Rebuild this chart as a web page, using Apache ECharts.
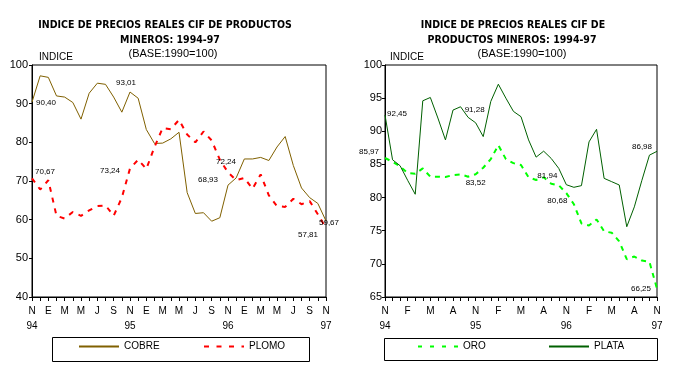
<!DOCTYPE html>
<html>
<head>
<meta charset="utf-8">
<script src="https://cdn.jsdelivr.net/npm/echarts@6/dist/echarts.min.js"></script>
<style>
html,body{margin:0;padding:0;background:#fff;}
#c{width:680px;height:367px;}
</style>
</head>
<body>
<div id="c"></div>
<script>
// ---- categories (Nov 1994 .. Nov 1997, monthly) ----
const categories = [
  'Nov-94','Dic-94','Ene-95','Feb-95','Mar-95','Abr-95','May-95','Jun-95','Jul-95','Ago-95','Sep-95','Oct-95',
  'Nov-95','Dic-95','Ene-96','Feb-96','Mar-96','Abr-96','May-96','Jun-96','Jul-96','Ago-96','Sep-96','Oct-96',
  'Nov-96','Dic-96','Ene-97','Feb-97','Mar-97','Abr-97','May-97','Jun-97','Jul-97','Ago-97','Sep-97','Oct-97',
  'Nov-97'
];
// month initial used as tick label
const monthInitials = {Nov:'N',Dic:'D',Ene:'E',Feb:'F',Mar:'M',Abr:'A',May:'M',Jun:'J',Jul:'J',Ago:'A',Sep:'S',Oct:'O'};

// ---- series values ----
const cobre = [90.40, 97.2, 96.8, 92.0, 91.7, 90.3, 86.0, 92.7, 95.3, 95.0, 91.7, 87.8,
  93.01, 91.4, 83.3, 79.7, 79.8, 80.9, 82.6, 67.0, 61.6, 61.8, 59.6, 60.5,
  68.93, 70.8, 75.7, 75.7, 76.1, 75.3, 78.8, 81.5, 74.0, 68.2, 65.7, 64.2, 59.67];
const plomo = [70.67, 67.8, 70.2, 61.0, 60.3, 62.0, 61.0, 62.4, 63.5, 63.7, 61.0, 65.7,
  73.24, 75.5, 73.1, 78.8, 83.7, 83.4, 85.8, 82.0, 80.0, 82.8, 80.5, 75.5,
  72.24, 70.2, 70.8, 68.0, 71.7, 66.3, 63.5, 63.3, 65.4, 64.0, 64.8, 61.4, 57.81];
const oro = [85.97, 85.4, 84.7, 83.7, 83.6, 84.4, 83.15, 83.15, 83.1, 83.4, 83.5, 83.15,
  83.52, 84.5, 85.8, 87.9, 85.8, 85.2, 84.9, 83.05, 82.65, 83.05, 82.1, 81.85,
  80.68, 79.0, 76.1, 75.8, 76.7, 74.9, 74.7, 73.4, 70.7, 71.1, 70.5, 70.3, 66.25];
const plata = [92.45, 85.7, 84.8, 82.6, 80.5, 94.6, 95.1, 92.0, 88.7, 93.2, 93.7, 92.1,
  91.28, 89.2, 94.5, 97.1, 95.0, 93.0, 92.2, 88.7, 86.1, 87.0, 85.9, 84.4,
  81.94, 81.55, 81.8, 88.4, 90.3, 82.9, 82.4, 81.9, 75.6, 78.6, 82.6, 86.4, 86.98];

// ---- which points carry a value label (index -> label offset in px) ----
const cobreLabelAt = {0:[14,1], 12:[-4,-9], 24:[-20,-5], 36:[3,2]};
const plomoLabelAt = {0:[13,-7], 12:[-20,2], 24:[-2,-11], 36:[-18,7]};
const plataLabelAt = {0:[12,-1], 12:[-1,-13], 24:[-19,-9], 36:[-15,-5]};
const oroLabelAt   = {0:[-16,-6], 12:[0,9], 24:[-9,8], 36:[-16,0]};

const FONT = "'Liberation Sans', Arial, sans-serif";
const NARROW = "'Liberation Sans Narrow', 'Arial Narrow', 'DejaVu Sans Condensed', sans-serif";

function fmt(v){ return v.toFixed(2).replace('.', ','); }
function withLabels(values, at){
  return values.map((v, i) => at[i] ? {
    value: v, symbol: 'circle', symbolSize: 1,
    itemStyle: {color: 'rgba(0,0,0,0)'},
    label: {show: true, position: 'inside', offset: at[i], formatter: fmt(v),
            color: '#000', fontSize: 8, fontFamily: FONT, textBorderWidth: 0}
  } : v);
}

function xAxisFor(gridIndex, every){
  return {
    type: 'category', gridIndex, data: categories, boundaryGap: false,
    axisLine: {show: true, lineStyle: {color: '#000', width: 1}},
    axisTick: {show: true, interval: 0, length: 4, lineStyle: {color: '#000'}},
    splitLine: {show: false},
    axisLabel: {
      interval: every - 1, color: '#000', fontSize: 10, fontFamily: FONT, margin: 7, lineHeight: 15,
      formatter: function (val) {
        const [m, y] = val.split('-');
        return monthInitials[m] + (m === 'Nov' ? '\n' + y : '');
      }
    }
  };
}
function yAxisFor(gridIndex, min, max, interval, margin){
  return {
    type: 'value', gridIndex, min, max, interval,
    axisLine: {show: true, lineStyle: {color: '#000', width: 1}},
    axisTick: {show: true, length: 3, lineStyle: {color: '#000'}},
    splitLine: {show: false},
    axisLabel: {color: '#000', fontSize: 11, fontFamily: FONT, margin}
  };
}
function lineSeries(name, values, at, xi, color, width, type){
  return {
    name, type: 'line', xAxisIndex: xi, yAxisIndex: xi,
    data: withLabels(values, at),
    symbol: 'none', showSymbol: true, showAllSymbol: true,
    lineStyle: {color, width, type},
    itemStyle: {color},
    emphasis: {disabled: true},
    z: 3
  };
}
function legendFor(name, left, top, dash){
  const l = {
    data: [name], left, top, padding: 0, itemWidth: 40, itemHeight: 14, itemGap: 0,
    selectedMode: false,
    itemStyle: {opacity: 0},
    textStyle: {color: '#000', fontSize: 10, fontFamily: FONT}
  };
  if (dash) l.lineStyle = {type: dash};
  return l;
}
function txt(text, x, y, font, align){
  return {type: 'text', silent: true, style: {text, x, y, font, fill: '#000',
    textAlign: align || 'center', textVerticalAlign: 'middle'}};
}

const chart = echarts.init(document.getElementById('c'), null, {renderer: 'canvas'});
chart.setOption({
  animation: false,
  backgroundColor: '#fff',
  grid: [
    {left: 32, top: 65, width: 294, height: 232, show: true, borderColor: '#000', borderWidth: 1, backgroundColor: 'transparent'},
    {left: 385, top: 65, width: 272, height: 232, show: true, borderColor: '#000', borderWidth: 1, backgroundColor: 'transparent'}
  ],
  xAxis: [xAxisFor(0, 2), xAxisFor(1, 3)],
  yAxis: [yAxisFor(0, 40, 100, 10, 4), yAxisFor(1, 65, 100, 5, 3)],
  legend: [
    legendFor('COBRE', 78, 341),
    legendFor('PLOMO', 203, 341, [5, 7.5]),
    legendFor('ORO', 417, 341, [4, 8]),
    legendFor('PLATA', 548, 341)
  ],
  series: [
    lineSeries('COBRE', cobre, cobreLabelAt, 0, '#806000', 1, 'solid'),
    lineSeries('PLOMO', plomo, plomoLabelAt, 0, '#ff0000', 2, [5, 6]),
    lineSeries('ORO', oro, oroLabelAt, 1, '#00ff00', 2, [5, 5]),
    lineSeries('PLATA', plata, plataLabelAt, 1, '#006000', 1, 'solid')
  ],
  graphic: [
    txt('INDICE DE PRECIOS REALES CIF DE PRODUCTOS', 165, 25, 'bold 10.5px ' + NARROW),
    txt('MINEROS: 1994-97', 170, 40, 'bold 10.5px ' + NARROW),
    txt('(BASE:1990=100)', 173, 54, '11px ' + FONT),
    txt('INDICE', 39, 57, '10px ' + FONT, 'left'),
    txt('INDICE DE PRECIOS REALES CIF DE', 513, 25, 'bold 10.5px ' + NARROW),
    txt('PRODUCTOS MINEROS: 1994-97', 512, 40, 'bold 10.5px ' + NARROW),
    txt('(BASE:1990=100)', 522, 54, '11px ' + FONT),
    txt('INDICE', 390, 57, '10px ' + FONT, 'left'),
    {type: 'rect', silent: true, shape: {x: 52.5, y: 337.5, width: 257, height: 24},
     style: {fill: 'none', stroke: '#000', lineWidth: 1}},
    {type: 'rect', silent: true, shape: {x: 384.5, y: 338.5, width: 273, height: 22},
     style: {fill: 'none', stroke: '#000', lineWidth: 1}}
  ]
});
</script>
</body>
</html>
